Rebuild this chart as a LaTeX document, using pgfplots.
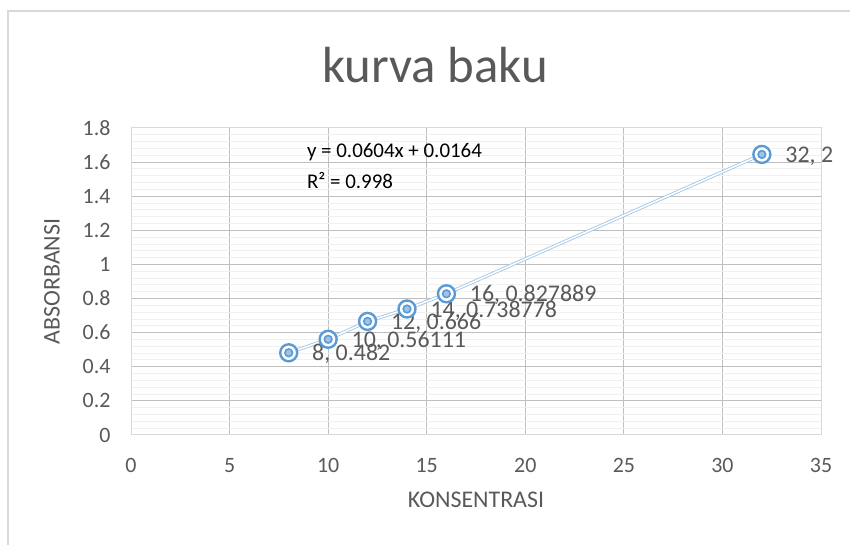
\documentclass[border=0pt]{standalone}
\usepackage{pgfplots}
\pgfplotsset{compat=1.18}
\usepackage{fontspec}
\setmainfont{Carlito}
\definecolor{txt}{HTML}{595959}
\definecolor{grid}{HTML}{D9D9D9}
\definecolor{mgrid}{HTML}{F0F0F0}
\definecolor{ser}{HTML}{5B9BD5}
\definecolor{lser}{HTML}{9DC3E6}
\begin{document}
\begin{tikzpicture}[x=1bp,y=1bp]
\useasboundingbox (0,0) rectangle (850,545);
\draw[grid, line width=1.2bp] (8,-5) -- (8,534) -- (860,534);
\node[txt, font=\fontsize{51}{55}\selectfont] at (435,480) {kurva baku};
\begin{axis}[
  at={(131bp,110bp)}, anchor=south west,
  width=690bp, height=307bp, scale only axis,
  xmin=0, xmax=35, ymin=0, ymax=1.8,
  xtick={0,5,...,35}, ytick={0,0.2,...,1.8},
  yticklabels={0,0.2,0.4,0.6,0.8,1,1.2,1.4,1.6,1.8},
  minor y tick num=4,
  grid=both,
  major grid style={grid, line width=1bp},
  minor grid style={mgrid, line width=0.9bp},
  minor x tick num=0,
  axis line style={grid, line width=1bp},
  tick style={draw=none},
  ticklabel style={txt, font=\fontsize{22}{24}\selectfont},
  /pgf/number format/assume math mode=true,
  xticklabel style={yshift=-20bp},
  yticklabel style={xshift=-17bp},
  xlabel={KONSENTRASI}, ylabel={ABSORBANSI},
  label style={txt, font=\fontsize{24}{26}\selectfont},
  xlabel style={yshift=-12bp},
  ylabel style={yshift=16bp},
  clip=false,
]
\addplot[lser, line width=0.8bp, double=white, double distance=1.6bp, mark=none]
  coordinates {(8,0.482) (10,0.56111) (12,0.666) (14,0.738778) (16,0.827889) (32,1.645)};
\addplot[only marks, mark=*, mark size=8.5bp, mark options={draw=ser, fill=white, line width=2.4bp},
  point meta=explicit symbolic,
  nodes near coords, nodes near coords style={anchor=west, xshift=19bp, yshift=-1.5bp, txt, font=\fontsize{24}{26}\selectfont}]
  coordinates {(8,0.482) [{8, 0.482}] (10,0.56111) [{10, 0.56111}] (12,0.666) [{12, 0.666}] (14,0.738778) [{14, 0.738778}] (16,0.827889) [{16, 0.827889}] (32,1.645) [{32, 2}]};
\addplot[only marks, mark=*, mark size=3.8bp, mark options={draw=ser, fill=lser, line width=1.6bp}]
  coordinates {(8,0.482) (10,0.56111) (12,0.666) (14,0.738778) (16,0.827889) (32,1.645)};
\node[anchor=west, black, font=\fontsize{21}{23}\selectfont] at (axis cs:8.75,1.66) {y = 0.0604x + 0.0164};
\node[anchor=west, black, font=\fontsize{21}{23}\selectfont] at (axis cs:8.75,1.49) {R² = 0.998};
\end{axis}
\end{tikzpicture}
\end{document}
